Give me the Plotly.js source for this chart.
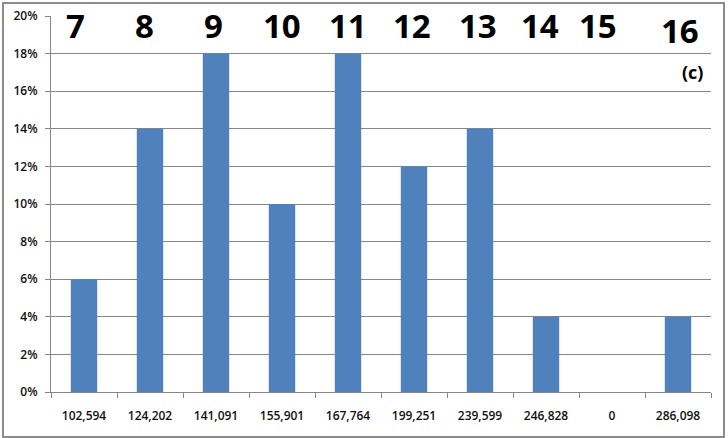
<!DOCTYPE html>
<html>
<head>
<meta charset="utf-8">
<script src="https://cdn.plot.ly/plotly-3.0.1.min.js"></script>
<style>
  html, body { margin: 0; padding: 0; background: #fff; }
  #chart { position: absolute; left: 0; top: 0; width: 728px; height: 438px; }
  #frame { position: absolute; left: 2px; top: 2px; width: 719px; height: 432px; border: 2px solid #8c8c8c; pointer-events: none; }
</style>
</head>
<body>
<div id="chart"></div>
<div id="frame"></div>
<script>
const categories = ["102,594", "124,202", "141,091", "155,901", "167,764", "199,251", "239,599", "246,828", "0", "286,098"];
const shares = [6, 14, 18, 10, 18, 12, 14, 4, 0, 4];
const topLabels = ["7", "8", "9", "10", "11", "12", "13", "14", "15", "16"];
const panelLabel = "(c)";
const yTickVals = [0, 2, 4, 6, 8, 10, 12, 14, 16, 18, 20];
const yTickText = ["0%", "2%", "4%", "6%", "8%", "10%", "12%", "14%", "16%", "18%", "20%"];

const shifts = [-9, -6, -3, 0, 0, -2, -2, -6, -14, 2];
const annotations = topLabels.map((t, i) => ({
  x: i, y: i === 9 ? 19.25 : 19.5, xref: 'x', yref: 'y',
  text: t, showarrow: false, xshift: shifts[i],
  font: { family: 'Open Sans, sans-serif', size: 33, color: '#000', weight: 700 }
}));
annotations.push({
  x: 9, y: 17.0, xref: 'x', yref: 'y', text: panelLabel, showarrow: false, xshift: 14,
  font: { family: 'Open Sans, sans-serif', size: 18, color: '#000', weight: 700 }
});

const trace = {
  type: 'bar', x: categories, y: shares,
  marker: { color: '#4F81BD', line: { width: 0 } },
  hoverinfo: 'skip'
};

const layout = {
  width: 728, height: 438,
  margin: { l: 51, r: 17, t: 16, b: 46 },
  paper_bgcolor: '#fff', plot_bgcolor: '#fff',
  showlegend: false,
  bargap: 0.6,
  font: { family: 'Open Sans, sans-serif', size: 12, color: '#111' },
  xaxis: {
    type: 'category', categoryorder: 'array', categoryarray: categories,
    showline: true, linecolor: '#868686', linewidth: 1,
    ticks: 'outside', tickson: 'boundaries', ticklen: 5, tickcolor: '#868686',
    ticklabelstandoff: 13, showgrid: false, zeroline: false,
    tickfont: { family: 'Open Sans, sans-serif', size: 12, color: '#111', weight: 600 }
  },
  yaxis: {
    range: [0, 20], tickvals: yTickVals, ticktext: yTickText,
    showline: true, linecolor: '#868686', linewidth: 1,
    ticks: 'outside', ticklen: 5, tickcolor: '#868686',
    showgrid: true, gridcolor: '#868686', gridwidth: 1, zeroline: false,
    ticklabelstandoff: 5,
    tickfont: { family: 'Open Sans, sans-serif', size: 12, color: '#111', weight: 600 }
  },
  annotations: annotations
};

Plotly.newPlot('chart', [trace], layout, { staticPlot: true, displayModeBar: false });
</script>
</body>
</html>
